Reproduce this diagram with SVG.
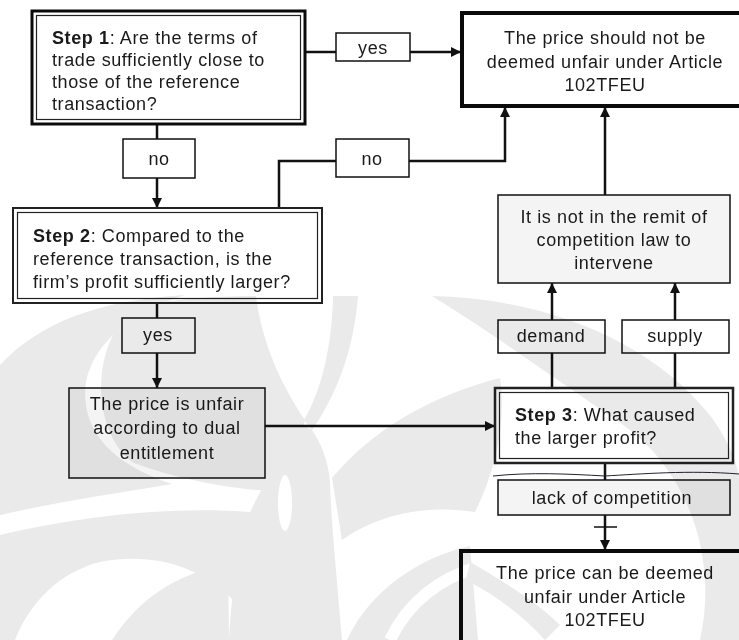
<svg xmlns="http://www.w3.org/2000/svg" width="739" height="640" viewBox="0 0 739 640">
<defs>
<style>
text{font-family:"Liberation Sans",Arial,sans-serif;font-size:18px;letter-spacing:0.6px;fill:#1a1a1a}
.c{text-anchor:middle}
.b{font-weight:bold}
.box{fill:#fff;stroke:#111;stroke-width:1.5}
.grey{fill:#f4f4f4;stroke:#111;stroke-width:1.5}
.thick{fill:#fff;stroke:#0a0a0a;stroke-width:4}
.thin{fill:none;stroke:#222;stroke-width:1.2}
.ln{fill:none;stroke:#111;stroke-width:2.5}
.wm{fill:#eaeaea}
.wg{fill:none;stroke:#fff}
</style>
<marker id="ah" viewBox="0 0 10 10" refX="10" refY="5" markerWidth="10" markerHeight="10" markerUnits="userSpaceOnUse" orient="auto">
<path d="M0,0 L10,5 L0,10 z" fill="#111"/>
</marker>
</defs>
<rect width="739" height="640" fill="#fff"/>
<g id="connectors">
<path class="ln" d="M305,52 H336"/>
<path class="ln" d="M410,52 H461" marker-end="url(#ah)"/>
<path class="ln" d="M157,124 V139"/>
<path class="ln" d="M157,178 V208" marker-end="url(#ah)"/>
<path class="ln" d="M279,208 V161 H336"/>
<path class="ln" d="M409,161 H505 V107" marker-end="url(#ah)"/>
<path class="ln" d="M605,195 V107" marker-end="url(#ah)"/>
<path class="ln" d="M157,303 V318"/>
<path class="ln" d="M157,353 V388" marker-end="url(#ah)"/>
<path class="ln" d="M265,426 H495" marker-end="url(#ah)"/>
<path class="ln" d="M552,388 V353"/>
<path class="ln" d="M552,320 V283" marker-end="url(#ah)"/>
<path class="ln" d="M675,388 V353"/>
<path class="ln" d="M675,320 V283" marker-end="url(#ah)"/>
<path class="ln" d="M605,463 V480"/>
<path class="ln" d="M605,515 V550" marker-end="url(#ah)"/>
<path class="ln" d="M594,527 H617" style="stroke-width:1.5"/>
<path d="M493,476 C530,472 570,474 605,476 C640,474 690,470 739,474" fill="none" stroke="#223" stroke-width="1"/>
</g>
<g id="step1">
<rect x="32" y="11" width="273" height="113" fill="#fff" stroke="#0a0a0a" stroke-width="3"/>
<rect x="36.5" y="15.5" width="264" height="104" class="thin"/>
<text x="52" y="44"><tspan class="b">Step 1</tspan>: Are the terms of</text>
<text x="52" y="66">trade sufficiently close to</text>
<text x="52" y="88">those of the reference</text>
<text x="52" y="110">transaction?</text>
</g>
<g id="yes1">
<rect x="336" y="33" width="74" height="28" class="box"/>
<text x="373" y="54" class="c">yes</text>
</g>
<g id="notunfair">
<rect x="462" y="13" width="290" height="93" class="thick"/>
<text x="605" y="44" class="c">The price should not be</text>
<text x="605" y="68" class="c">deemed unfair under Article</text>
<text x="605" y="91" class="c">102TFEU</text>
</g>
<g id="no1">
<rect x="123" y="139" width="72" height="39" class="box"/>
<text x="159" y="165" class="c">no</text>
</g>
<g id="no2">
<rect x="336" y="139" width="73" height="38" class="box"/>
<text x="372" y="165" class="c">no</text>
</g>
<g id="step2">
<rect x="13" y="208" width="309" height="95" fill="#fff" stroke="#222" stroke-width="2"/>
<rect x="17.5" y="212.5" width="300" height="86" class="thin"/>
<text x="33" y="242"><tspan class="b">Step 2</tspan>: Compared to the</text>
<text x="33" y="265">reference transaction, is the</text>
<text x="33" y="288">firm’s profit sufficiently larger?</text>
</g>
<g id="remit">
<rect x="498" y="195" width="232" height="88" class="grey"/>
<text x="614" y="223" class="c">It is not in the remit of</text>
<text x="614" y="246" class="c">competition law to</text>
<text x="614" y="269" class="c">intervene</text>
</g>
<g id="yes2">
<rect x="122" y="318" width="73" height="35" class="box"/>
<text x="158" y="341" class="c">yes</text>
</g>
<g id="demand">
<rect x="498" y="320" width="107" height="33" class="box"/>
<text x="551" y="342" class="c">demand</text>
</g>
<g id="supply">
<rect x="622" y="320" width="107" height="33" class="box"/>
<text x="675" y="342" class="c">supply</text>
</g>
<g id="unfairdual">
<rect x="69" y="388" width="196" height="90" class="grey"/>
<text x="167" y="410" class="c">The price is unfair</text>
<text x="167" y="434" class="c">according to dual</text>
<text x="167" y="459" class="c">entitlement</text>
</g>
<g id="step3">
<rect x="495" y="388" width="238" height="75" fill="#fff" stroke="#222" stroke-width="2.5"/>
<rect x="499.5" y="392.5" width="229" height="66" class="thin"/>
<text x="515" y="421"><tspan class="b">Step 3</tspan>: What caused</text>
<text x="515" y="444">the larger profit?</text>
</g>
<g id="lack">
<rect x="498" y="480" width="232" height="35" class="grey"/>
<text x="612" y="504" class="c">lack of competition</text>
</g>
<g id="canbeunfair">
<rect x="461" y="551" width="300" height="120" class="thick"/>
<text x="605" y="579" class="c">The price can be deemed</text>
<text x="605" y="603" class="c">unfair under Article</text>
<text x="605" y="626" class="c">102TFEU</text>
</g>
<g id="watermark" style="mix-blend-mode:multiply">
<path class="wm" d="M0,365 C40,322 100,300 185,295 C132,312 94,342 86,382 C80,425 105,462 172,484 C112,494 52,503 0,515 Z"/>
<path class="wm" d="M138,306 C180,298 225,296 256,296 C262,345 284,390 305,420 C300,445 292,470 284,492 C232,490 172,478 132,462 C106,442 98,402 102,372 C106,342 118,320 138,306 Z"/>
<path class="wm" d="M333,296 L358,296 C354,350 336,396 312,430 L304,420 C322,390 332,345 333,296 Z"/>
<path class="wm" d="M302,424 C282,460 258,490 247,520 C236,560 231,600 229,640 L342,640 C337,580 331,520 330,482 C328,458 320,442 312,430 Z"/>
<ellipse cx="285" cy="503" rx="7" ry="28" fill="#fff"/>
<path class="wm" d="M0,535 C80,516 170,506 250,512 C242,540 236,570 233,600 C200,565 150,552 100,562 C60,572 30,602 15,640 L0,640 Z"/>
<path class="wm" d="M112,640 C138,600 172,576 228,563 L229,640 Z"/>
<path class="wm" d="M332,478 C372,430 430,396 500,378 C506,420 497,468 475,512 C430,505 382,512 342,540 Z"/>
<path class="wm" d="M347,640 C370,590 420,557 470,546 L478,640 Z"/>
<path class="wg" stroke-width="12" d="M390,640 C408,602 440,578 478,567"/>
<path class="wm" d="M432,296 C540,298 650,338 712,418 C732,446 739,470 739,480 L739,640 L700,640 C718,560 690,472 622,424 C560,382 495,335 432,296 Z"/>
<path class="wm" d="M470,562 C510,585 540,605 560,625 L545,640 C522,615 497,596 466,580 Z"/>
</g>
</svg>
